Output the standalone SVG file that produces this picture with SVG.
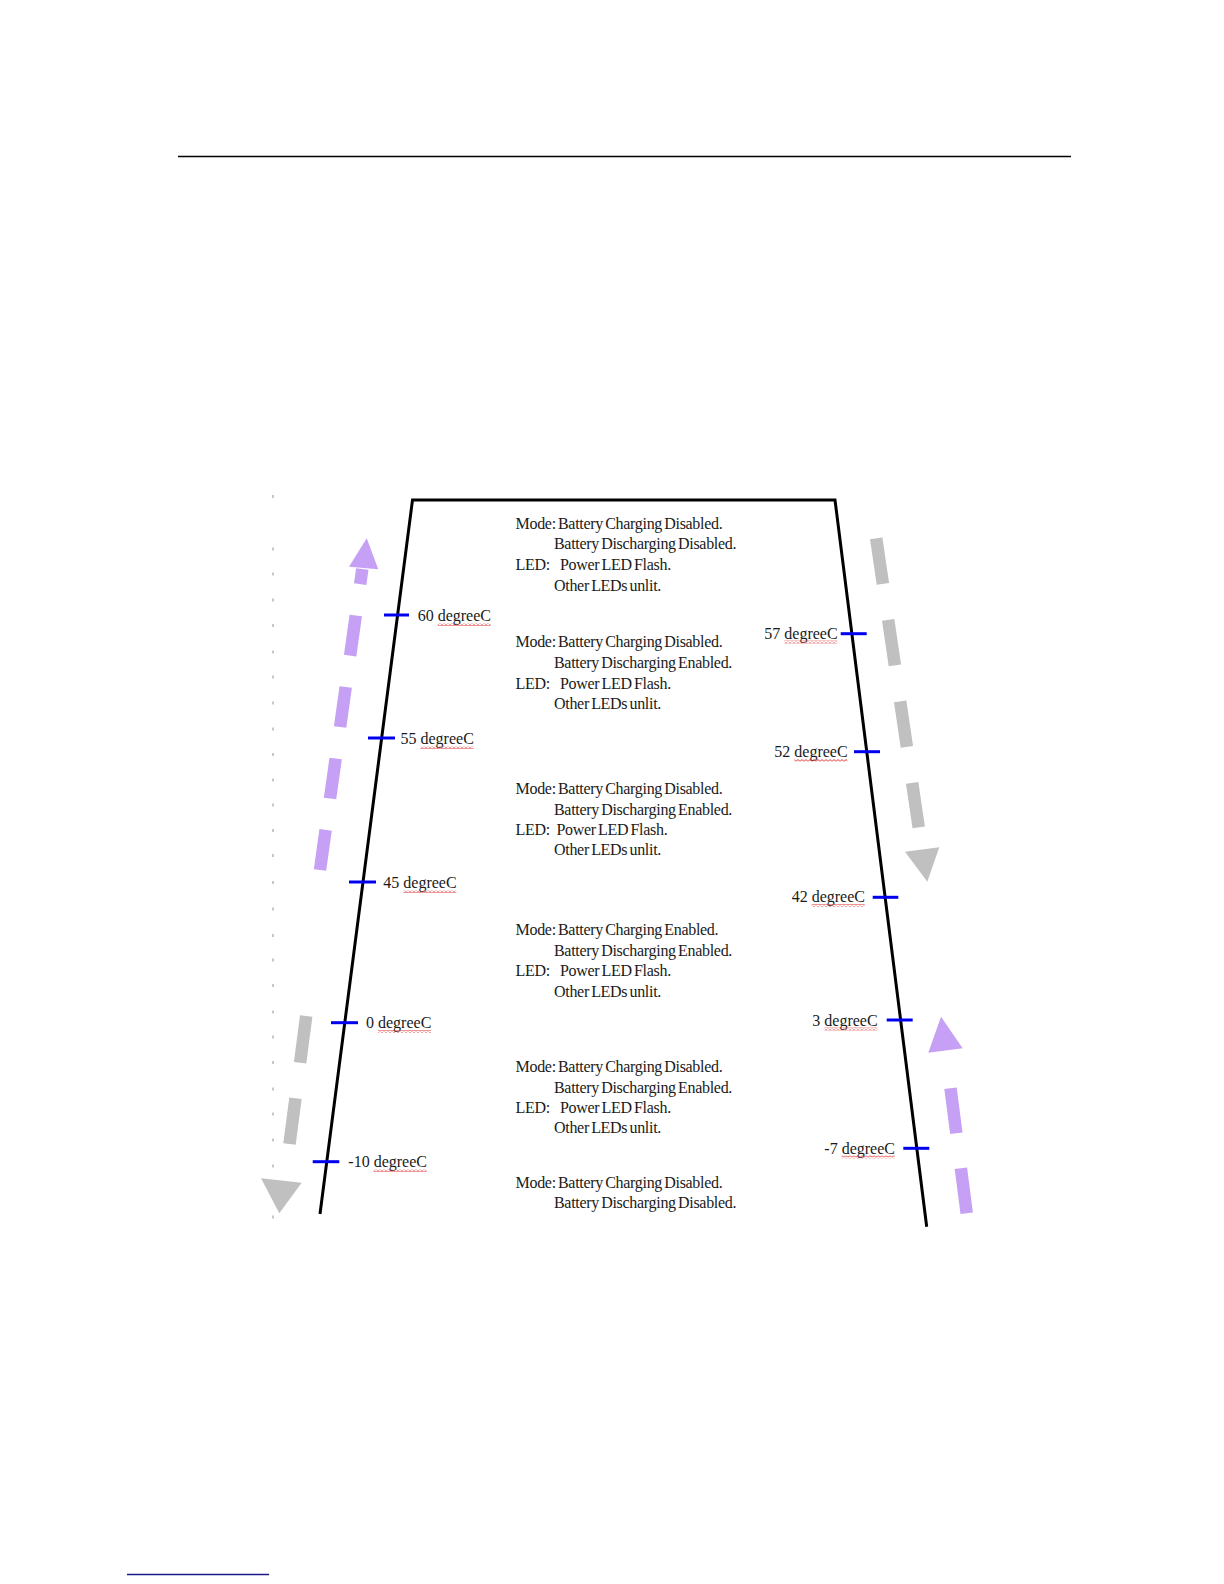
<svg xmlns="http://www.w3.org/2000/svg" width="1224" height="1584" viewBox="0 0 1224 1584">
<defs>
<pattern id="sq" x="0" y="0" width="4" height="3" patternUnits="userSpaceOnUse">
<path d="M0 2.5 L2 0.5 L4 2.5" fill="none" stroke="#e02828" stroke-width="1"/>
</pattern>
<style>
.t{font-family:"Liberation Serif","Times New Roman",serif;font-size:16px;letter-spacing:-0.3px;word-spacing:-1.5px;fill:#1a1a1a}
.l{font-family:"Liberation Serif","Times New Roman",serif;font-size:16px;fill:#1a1a1a}
.tick{stroke:#0000ee;stroke-width:3}
.dot{stroke:#909090;stroke-width:1}
.pur{stroke:#c6a0f4;stroke-width:12.5;fill:none}
.gry{stroke:#c0c0c0;stroke-width:12.5;fill:none}
</style>
</defs>
<rect width="1224" height="1584" fill="#ffffff"/>
<line x1="178" y1="156.5" x2="1071" y2="156.5" stroke="#000" stroke-width="1.5"/>
<line x1="127" y1="1574.5" x2="269" y2="1574.5" stroke="#1a1a8c" stroke-width="1.3"/>

<g id="margin-marks">
<path class="dot" d="M273 495v3M273 547.5v3M273 572.5v3M273 598.5v3M273 624v3M273 650.5v3M273 675.5v3M273 701.5v3M273 727.5v3M273 753v3M273 778.5v3M273 803.5v3M273 829v3M273 854v3M273 881v3M273 907.5v3M273 934v3M273 958.5v3M273 984v3M273 1010.5v3M273 1035.5v3M273 1061v3M273 1087.5v3M273 1112.5v3M273 1138.5v3M273 1164.5v3M273 1190v3M273 1215.5v3"/>
</g>

<g id="frame">
<polyline points="320,1214 412.5,500 835,500 926.7,1226.7" fill="none" stroke="#000" stroke-width="3" stroke-linejoin="miter"/>
</g>

<g id="connectors">
<line class="pur" x1="320" y1="870" x2="362.3" y2="569" stroke-dasharray="40.4 31.8"/>
<polygon points="366.7,538.3 349,566.7 378.3,569.3" fill="#c6a0f4"/>
<line class="gry" x1="876.2" y1="538.3" x2="918.7" y2="827.3" stroke-dasharray="46 36.4"/>
<polygon points="905,851.7 939.3,847.3 927.3,881.7" fill="#c0c0c0"/>
<line class="gry" x1="306.2" y1="1016" x2="289.5" y2="1144" stroke-dasharray="47.1 35.9"/>
<polygon points="261,1178.3 301.7,1182.7 279.3,1213.3" fill="#c0c0c0"/>
<line class="pur" x1="966.7" y1="1213.3" x2="950.3" y2="1086.7" stroke-dasharray="45.4 35.3"/>
<polygon points="941,1016.7 928.3,1052.7 962.7,1048.3" fill="#c6a0f4"/>
</g>

<g id="tick-60">
<line class="tick" x1="384" y1="615" x2="409" y2="615"/>
<text class="l" x="417.7" y="621">60 degreeC</text>
<rect x="437.7" y="623" width="53" height="3" fill="url(#sq)"/>
</g>
<g id="tick-55">
<line class="tick" x1="368" y1="738" x2="395" y2="738"/>
<text class="l" x="400.5" y="744">55 degreeC</text>
<rect x="420.5" y="746" width="53" height="3" fill="url(#sq)"/>
</g>
<g id="tick-45">
<line class="tick" x1="349" y1="882" x2="376" y2="882"/>
<text class="l" x="383.3" y="888">45 degreeC</text>
<rect x="403.3" y="890" width="53" height="3" fill="url(#sq)"/>
</g>
<g id="tick-0">
<line class="tick" x1="331" y1="1022.7" x2="358" y2="1022.7"/>
<text class="l" x="366" y="1028">0 degreeC</text>
<rect x="378" y="1030" width="53" height="3" fill="url(#sq)"/>
</g>
<g id="tick-m10">
<line class="tick" x1="312.7" y1="1161.7" x2="339.3" y2="1161.7"/>
<text class="l" x="348.3" y="1167">-10 degreeC</text>
<rect x="373.6" y="1169" width="53" height="3" fill="url(#sq)"/>
</g>

<g id="tick-57">
<line class="tick" x1="840.7" y1="633.7" x2="866.7" y2="633.7"/>
<text class="l" x="764.3" y="638.5">57 degreeC</text>
<rect x="784.3" y="640.5" width="53" height="3" fill="url(#sq)"/>
</g>
<g id="tick-52">
<line class="tick" x1="854" y1="751.7" x2="880" y2="751.7"/>
<text class="l" x="774.3" y="757">52 degreeC</text>
<rect x="794.3" y="759" width="53" height="3" fill="url(#sq)"/>
</g>
<g id="tick-42">
<line class="tick" x1="872.7" y1="897.3" x2="898.3" y2="897.3"/>
<text class="l" x="791.7" y="902">42 degreeC</text>
<rect x="811.7" y="904" width="53" height="3" fill="url(#sq)"/>
</g>
<g id="tick-3">
<line class="tick" x1="886.7" y1="1020" x2="912.7" y2="1020"/>
<text class="l" x="812.3" y="1025.5">3 degreeC</text>
<rect x="824.3" y="1027.5" width="53" height="3" fill="url(#sq)"/>
</g>
<g id="tick-m7">
<line class="tick" x1="903.3" y1="1148.3" x2="929.3" y2="1148.3"/>
<text class="l" x="824.3" y="1153.5">-7 degreeC</text>
<rect x="841.6" y="1155.5" width="53" height="3" fill="url(#sq)"/>
</g>

<g id="state-1">
<text class="t" x="515.5" y="528.5">Mode: Battery Charging Disabled.</text>
<text class="t" x="554" y="549">Battery Discharging Disabled.</text>
<text class="t" x="515.5" y="570">LED:</text>
<text class="t" x="560" y="570">Power LED Flash.</text>
<text class="t" x="554" y="590.5">Other LEDs unlit.</text>
</g>
<g id="state-2">
<text class="t" x="515.5" y="647">Mode: Battery Charging Disabled.</text>
<text class="t" x="554" y="668">Battery Discharging Enabled.</text>
<text class="t" x="515.5" y="688.5">LED:</text>
<text class="t" x="560" y="688.5">Power LED Flash.</text>
<text class="t" x="554" y="709">Other LEDs unlit.</text>
</g>
<g id="state-3">
<text class="t" x="515.5" y="794">Mode: Battery Charging Disabled.</text>
<text class="t" x="554" y="815">Battery Discharging Enabled.</text>
<text class="t" x="515.5" y="835">LED:</text>
<text class="t" x="556.5" y="835">Power LED Flash.</text>
<text class="t" x="554" y="855">Other LEDs unlit.</text>
</g>
<g id="state-4">
<text class="t" x="515.5" y="935">Mode: Battery Charging Enabled.</text>
<text class="t" x="554" y="956">Battery Discharging Enabled.</text>
<text class="t" x="515.5" y="976">LED:</text>
<text class="t" x="560" y="976">Power LED Flash.</text>
<text class="t" x="554" y="997">Other LEDs unlit.</text>
</g>
<g id="state-5">
<text class="t" x="515.5" y="1071.5">Mode: Battery Charging Disabled.</text>
<text class="t" x="554" y="1092.5">Battery Discharging Enabled.</text>
<text class="t" x="515.5" y="1112.5">LED:</text>
<text class="t" x="560" y="1112.5">Power LED Flash.</text>
<text class="t" x="554" y="1133">Other LEDs unlit.</text>
</g>
<g id="state-6">
<text class="t" x="515.5" y="1187.5">Mode: Battery Charging Disabled.</text>
<text class="t" x="554" y="1208">Battery Discharging Disabled.</text>
</g>
</svg>
